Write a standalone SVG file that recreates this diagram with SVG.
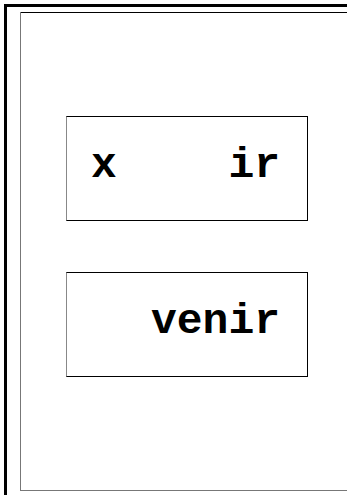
<svg xmlns="http://www.w3.org/2000/svg" width="347" height="495" viewBox="0 0 347 495">
<style>
.lbl{font-family:"Liberation Mono","Courier New",monospace;font-weight:bold;font-size:43px;fill:#000}
.box{fill:#fff}
</style>
<rect width="347" height="495" fill="#fff"/>
<g id="frame">
<line x1="5.5" y1="5.5" x2="347" y2="5.5" stroke="#000" stroke-width="3"/>
<line x1="5.5" y1="4" x2="5.5" y2="495" stroke="#000" stroke-width="3"/>
<line x1="20.5" y1="12.5" x2="347" y2="12.5" stroke="#000" stroke-width="1"/>
<line x1="20.5" y1="12" x2="20.5" y2="490.5" stroke="#777" stroke-width="1"/>
<line x1="20" y1="490.5" x2="347" y2="490.5" stroke="#777" stroke-width="1"/>
</g>
<g id="node-ir">
<rect class="box" x="66.5" y="116.5" width="241" height="104" stroke="#000" stroke-width="1"/>
<line x1="66.5" y1="116.5" x2="66.5" y2="220.5" stroke="#888" stroke-width="1"/>
<text class="lbl" x="91" y="177">x</text>
<text class="lbl" x="280" y="177" text-anchor="end">ir</text>
</g>
<g id="node-venir">
<rect class="box" x="66.5" y="272.5" width="241" height="104" stroke="#000" stroke-width="1"/>
<line x1="66.5" y1="272.5" x2="66.5" y2="376.5" stroke="#888" stroke-width="1"/>
<text class="lbl" x="280" y="333" text-anchor="end">venir</text>
</g>
<g id="connectors"/>
</svg>
